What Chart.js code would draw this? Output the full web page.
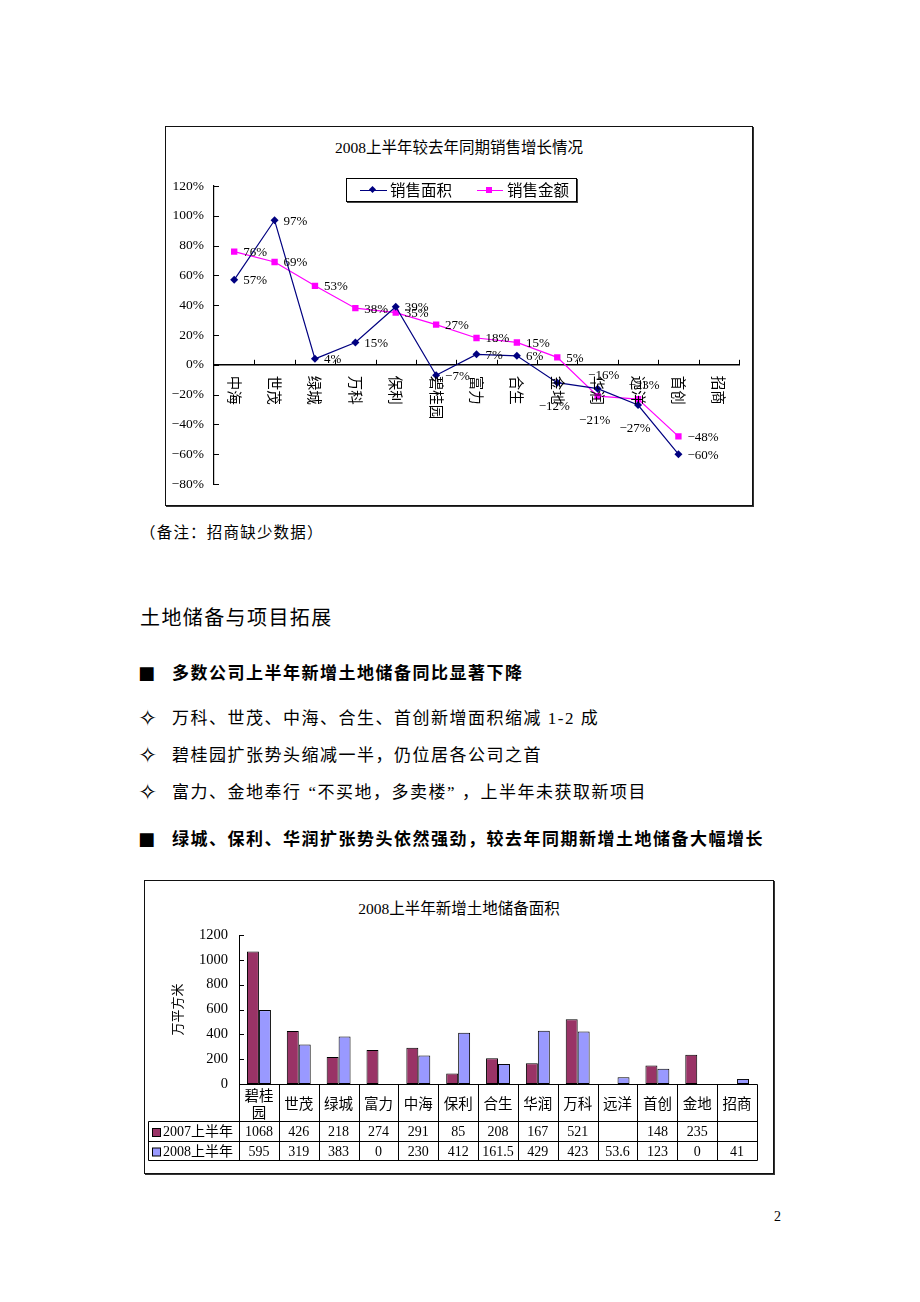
<!DOCTYPE html>
<html>
<head>
<meta charset="utf-8">
<script src="https://cdn.jsdelivr.net/npm/chart.js@4.4.1/dist/chart.umd.min.js"></script>
<style>
html,body{margin:0;padding:0;background:#fff;}
body{width:920px;height:1302px;position:relative;overflow:hidden;font-family:"Liberation Serif","Noto Sans CJK SC",serif;color:#000;}
.t{position:absolute;white-space:nowrap;line-height:1;}
.frame{position:absolute;border:1px solid #111;box-shadow:1px 1px 0 #333;background:#fff;}
canvas{position:absolute;}
.body{font-size:17px;letter-spacing:1.5px;}
.bold{font-weight:bold;}
.bul{font-family:'DejaVu Sans';font-size:23px;}
.sq{font-family:'DejaVu Sans';font-size:18px;}
</style>
</head>
<body>
<!-- ===== Chart 1 frame and texts ===== -->
<div class="frame" style="left:165px;top:126px;width:586px;height:378px;"></div>
<div class="t" style="left:166px;top:140px;width:586px;text-align:center;font-size:15.5px;">2008上半年较去年同期销售增长情况</div>
<div style="position:absolute;left:346px;top:178px;width:229px;height:22px;border:1px solid #000;box-shadow:1px 1px 0 #444;background:#fff;z-index:3;">
  <div style="position:absolute;left:13px;top:11px;width:27px;border-top:1px solid #000080;"></div>
  <div style="position:absolute;left:23px;top:8px;width:5px;height:5px;background:#000080;transform:rotate(45deg);"></div>
  <div class="t" style="left:43px;top:4px;font-size:15.5px;">销售面积</div>
  <div style="position:absolute;left:130px;top:11px;width:26px;border-top:1px solid #FF00FF;"></div>
  <div style="position:absolute;left:139px;top:8px;width:6px;height:6px;background:#FF00FF;"></div>
  <div class="t" style="left:160px;top:4px;font-size:15.5px;">销售金额</div>
</div>
<canvas id="c1" width="586" height="378" style="left:166px;top:127px;z-index:2;"></canvas>

<div class="t" style="left:140px;top:525px;font-size:15.5px;letter-spacing:1.2px;">（备注：招商缺少数据）</div>

<div class="t" style="left:140px;top:608px;font-size:20px;letter-spacing:1.4px;">土地储备与项目拓展</div>

<div class="t sq" style="left:138px;top:664px;">■</div>
<div class="t body bold" style="left:172px;top:665px;">多数公司上半年新增土地储备同比显著下降</div>

<div class="t bul" style="left:138px;top:707px;">✧</div>
<div class="t body" style="left:172px;top:710px;">万科、世茂、中海、合生、首创新增面积缩减 1-2 成</div>
<div class="t bul" style="left:138px;top:744px;">✧</div>
<div class="t body" style="left:172px;top:747px;">碧桂园扩张势头缩减一半，仍位居各公司之首</div>
<div class="t bul" style="left:138px;top:781px;">✧</div>
<div class="t body" style="left:172px;top:784px;">富力、金地奉行<span style="margin-left:7px;">“</span>不买地，多卖楼<span style="margin-right:6px;">”</span>，上半年未获取新项目</div>

<div class="t sq" style="left:138px;top:830px;">■</div>
<div class="t body bold" style="left:172px;top:831px;">绿城、保利、华润扩张势头依然强劲，较去年同期新增土地储备大幅增长</div>

<!-- ===== Chart 2 frame and texts ===== -->
<div class="frame" style="left:144px;top:880px;width:628px;height:292px;"></div>
<div class="t" style="left:144px;top:901px;width:630px;text-align:center;font-size:15.5px;">2008上半年新增土地储备面积</div>
<canvas id="c2" width="630" height="294" style="left:144px;top:880px;z-index:2;"></canvas>

<div class="t" style="left:774px;top:1210px;font-size:14px;">2</div>

<script>
// ---------- Data: chart 1 ----------
const salesCategories = ['中海','世茂','绿城','万科','保利','碧桂园','富力','合生','金地','华润','远洋','首创','招商'];
const areaGrowth   = [57, 97, 4, 15, 39, -7, 7, 6, -12, -16, -27, -60, null];
const amountGrowth = [76, 69, 53, 38, 35, 27, 18, 15, 5, -21, -23, -48, null];
const growthTickMin = -80, growthTickMax = 120, growthTickStep = 20;
// label placement keywords (style only)
const areaLabelPlace   = ['r','r','r','r','r','r','r','r','b','a','b','r',null];
const amountLabelPlace = ['r','r','r','r','r','r','r','r','r','b','a','r',null];

// ---------- Data: chart 2 ----------
const landCategories = ['碧桂园','世茂','绿城','富力','中海','保利','合生','华润','万科','远洋','首创','金地','招商'];
const land2007 = [1068, 426, 218, 274, 291, 85, 208, 167, 521, null, 148, 235, null];
const land2008 = [595, 319, 383, 0, 230, 412, 161.5, 429, 423, 53.6, 123, 0, 41];
const landSeries = ['2007上半年','2008上半年'];
const landTickMax = 1200, landTickStep = 200;

const SERIF = '"Liberation Serif", "Noto Sans CJK SC", serif';
const CJK = '"Noto Sans CJK SC", sans-serif';

// inward tick marks plugin
const innerTicks = {
  id: 'innerTicks',
  afterDraw(chart, args, opts) {
    const {ctx} = chart; const xs = chart.scales.x, ys = chart.scales.y;
    ctx.save(); ctx.strokeStyle = '#000'; ctx.lineWidth = 1;
    ys.ticks.forEach(t => {
      const py = Math.round(ys.getPixelForValue(t.value)) + 0.5;
      ctx.beginPath(); ctx.moveTo(ys.right, py); ctx.lineTo(ys.right + 5, py); ctx.stroke();
    });
    if (opts.xTicks) {
      const n = chart.data.labels.length;
      const zy = ys.getPixelForValue(0);
      for (let i = 1; i <= n; i++) {
        const px = Math.round(xs.left + i * (xs.right - xs.left) / n) + 0.5;
        ctx.beginPath(); ctx.moveTo(px, zy); ctx.lineTo(px, zy - 5); ctx.stroke();
      }
    }
    ctx.restore();
  }
};

// category labels rotated 90° clockwise under the zero line
const rotatedXLabels = {
  id: 'rotatedXLabels',
  afterDatasetsDraw(chart) {
    const {ctx} = chart; const xs = chart.scales.x, ys = chart.scales.y;
    const y0 = ys.getPixelForValue(0) + 11;
    ctx.save();
    ctx.font = '14.5px ' + CJK; ctx.fillStyle = '#000';
    ctx.textAlign = 'left'; ctx.textBaseline = 'middle';
    chart.data.labels.forEach((lab, i) => {
      const x = xs.getPixelForValue(i);
      ctx.save(); ctx.translate(x, y0); ctx.rotate(Math.PI / 2);
      ctx.fillText(lab, 0, 0);
      ctx.restore();
    });
    ctx.restore();
  }
};

const pointLabels = {
  id: 'pointLabels',
  afterDatasetsDraw(chart) {
    const {ctx} = chart;
    ctx.save();
    ctx.font = '13px ' + SERIF; ctx.fillStyle = '#000';
    chart.data.datasets.forEach((ds, di) => {
      const meta = chart.getDatasetMeta(di);
      meta.data.forEach((pt, i) => {
        const v = ds.data[i]; if (v === null || v === undefined) return;
        const txt = (v < 0 ? '\u2212' + Math.abs(v) : v) + '%';
        const place = ds.labelPlace[i];
        ctx.textBaseline = 'middle';
        if (place === 'b') { ctx.textAlign = 'center'; ctx.fillText(txt, pt.x - 3, pt.y + 24); }
        else if (place === 'a') { ctx.textAlign = 'center'; ctx.fillText(txt, pt.x + 6, pt.y - 13); }
        else { ctx.textAlign = 'left'; ctx.fillText(txt, pt.x + 9, pt.y + 1); }
      });
    });
    ctx.restore();
  }
};

new Chart(document.getElementById('c1'), {
  type: 'line',
  data: {
    labels: salesCategories,
    datasets: [
      { label: '销售面积', data: areaGrowth, borderColor: '#000080', backgroundColor: '#000080',
        borderWidth: 1.2, pointStyle: 'rectRot', pointRadius: 4, pointBorderWidth: 0, tension: 0,
        labelPlace: areaLabelPlace },
      { label: '销售金额', data: amountGrowth, borderColor: '#FF00FF', backgroundColor: '#FF00FF',
        borderWidth: 1.2, pointStyle: 'rect', pointRadius: 4.5, pointBorderWidth: 0, tension: 0,
        labelPlace: amountLabelPlace }
    ]
  },
  options: {
    responsive: false, animation: false, devicePixelRatio: 1,
    layout: { padding: { left: 0, top: 59, right: 13, bottom: 21 } },
    plugins: { legend: { display: false }, title: { display: false }, tooltip: { enabled: false }, innerTicks: { xTicks: true } },
    scales: {
      x: {
        type: 'category', position: { y: 0 }, offset: true,
        grid: { display: false, drawTicks: false },
        border: { display: true, color: '#000', width: 1.5 },
        ticks: { display: false }
      },
      y: {
        min: growthTickMin, max: growthTickMax,
        grid: { display: false, drawTicks: false },
        border: { display: true, color: '#000', width: 1.2 },
        ticks: { stepSize: growthTickStep, color: '#000', padding: 10,
          font: { family: SERIF, size: 13.5 },
          callback: v => (v < 0 ? '\u2212' + Math.abs(v) : v) + '%' },
        afterFit: s => { s.width = 48; }
      }
    }
  },
  plugins: [innerTicks, rotatedXLabels, pointLabels]
});

// data table plugin for chart 2
const dataTable = {
  id: 'dataTable',
  afterDraw(chart) {
    const {ctx, chartArea: ca} = chart;
    const n = chart.data.labels.length;
    const cw = (ca.right - ca.left) / n;
    const top = Math.round(ca.bottom) + 0.5;
    const r1 = top + 37, r2 = r1 + 20, r3 = r2 + 19;
    const leftX = 4.5;
    const right = Math.round(ca.right) + 0.5;
    ctx.save();
    ctx.strokeStyle = '#000'; ctx.lineWidth = 1;
    ctx.beginPath();
    ctx.moveTo(Math.round(ca.left) + 0.5, top); ctx.lineTo(right, top);
    [r1, r2, r3].forEach(y => { ctx.moveTo(leftX, y); ctx.lineTo(right, y); });
    ctx.moveTo(leftX, r1); ctx.lineTo(leftX, r3);
    for (let i = 0; i <= n; i++) {
      const x = Math.round(ca.left + i * cw) + 0.5;
      ctx.moveTo(x, top); ctx.lineTo(x, r3);
    }
    ctx.stroke();
    // categories
    ctx.fillStyle = '#000'; ctx.textAlign = 'center'; ctx.textBaseline = 'middle';
    ctx.font = '14.5px ' + CJK;
    chart.data.labels.forEach((c, i) => {
      const cx = ca.left + (i + 0.5) * cw;
      if (ctx.measureText(c).width > cw - 6) {
        ctx.fillText(c.slice(0, 2), cx, top + 11); ctx.fillText(c.slice(2), cx, top + 28);
      } else {
        ctx.fillText(c, cx, top + 18.5);
      }
    });
    // values + row headers
    ctx.font = '14px ' + SERIF;
    const rowY = [r1 + 11, r2 + 10.5];
    chart.data.datasets.forEach((ds, ri) => {
      ds.data.forEach((v, i) => {
        if (v === null || v === undefined) return;
        ctx.fillText(String(v), ca.left + (i + 0.5) * cw, rowY[ri]);
      });
      ctx.fillStyle = ds.backgroundColor; ctx.fillRect(8.5, rowY[ri] - 4, 8, 8);
      ctx.strokeRect(8.5, rowY[ri] - 4, 8, 8);
      ctx.fillStyle = '#000'; ctx.textAlign = 'left';
      ctx.fillText(ds.label, 19, rowY[ri]);
      ctx.textAlign = 'center';
    });
    ctx.restore();
  }
};

new Chart(document.getElementById('c2'), {
  type: 'bar',
  data: {
    labels: landCategories,
    datasets: [
      { label: landSeries[0], data: land2007, backgroundColor: '#993366', borderColor: '#000', borderWidth: 1,
        borderSkipped: false, categoryPercentage: 0.6, barPercentage: 1 },
      { label: landSeries[1], data: land2008, backgroundColor: '#9999FF', borderColor: '#000', borderWidth: 1,
        borderSkipped: false, categoryPercentage: 0.6, barPercentage: 1 }
    ]
  },
  options: {
    responsive: false, animation: false, devicePixelRatio: 1,
    layout: { padding: { left: 0, top: 55, right: 17, bottom: 90 } },
    plugins: { legend: { display: false }, title: { display: false }, tooltip: { enabled: false }, innerTicks: { xTicks: false } },
    scales: {
      x: { display: false, offset: true },
      y: {
        min: 0, max: landTickMax,
        grid: { display: false, drawTicks: false },
        border: { display: true, color: '#000', width: 1 },
        ticks: { stepSize: landTickStep, color: '#000', padding: 11, font: { family: SERIF, size: 14.5 },
          callback: v => String(v) },
        title: { display: true, text: '万平方米', color: '#000', font: { family: CJK, size: 13 }, padding: { top: 25, bottom: 0 } },
        afterFit: s => { s.width = 95; }
      }
    }
  },
  plugins: [innerTicks, dataTable]
});
</script>
</body>
</html>
